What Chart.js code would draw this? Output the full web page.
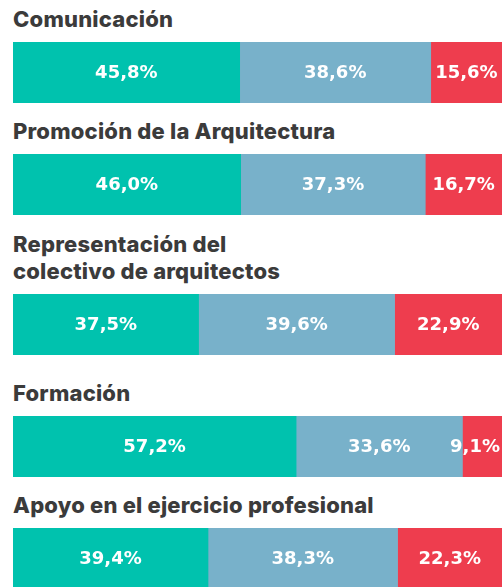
<!DOCTYPE html>
<html lang="es">
<head>
  <meta charset="UTF-8">
  <title>Valoración de servicios</title>
  <script src="https://cdn.jsdelivr.net/npm/chart.js"></script>
  <style>
    body { margin: 0; padding: 0; background: #fff; width: 502px; height: 587px; overflow: hidden; position: relative; }
    .bloque { position: absolute; left: 13px; width: 489px; }
    .bloque h3 { margin: 0 0 9px 0; font-family: Inter, sans-serif; font-weight: 800; font-size: 22px; line-height: 27px; letter-spacing: 0.2px; color: #3b3b3b; white-space: nowrap; }
    .barra { position: relative; width: 489px; height: 61px; }
  </style>
</head>
<body>
  <script>
    // Categorías y porcentajes de cada tramo (verde, azul, rojo)
    const categorias = [
      ['Comunicación'],
      ['Promoción de la Arquitectura'],
      ['Representación del', 'colectivo de arquitectos'],
      ['Formación'],
      ['Apoyo en el ejercicio profesional']
    ];
    const tramoVerde = [45.8, 46.0, 37.5, 57.2, 39.4];
    const tramoAzul  = [38.6, 37.3, 39.6, 33.6, 38.3];
    const tramoRojo  = [15.6, 16.7, 22.9, 9.1, 22.3];

    const colores = ['#00c2ae', '#78b1ca', '#ee3d4e'];
    // borde superior de cada barra en la página
    const topBarra = [42, 154, 294, 416, 528];

    function formato(v) {
      return v.toFixed(1).replace('.', ',') + '%';
    }

    // etiquetas blancas centradas en el tramo visible
    const etiquetas = {
      id: 'etiquetas',
      afterDatasetsDraw(chart) {
        const ctx = chart.ctx;
        const area = chart.chartArea;
        ctx.save();
        ctx.font = 'bold 18px "DejaVu Sans"';
        ctx.fillStyle = '#fff';
        ctx.textAlign = 'center';
        ctx.textBaseline = 'middle';
        chart.data.datasets.forEach((ds, i) => {
          chart.getDatasetMeta(i).data.forEach((bar, j) => {
            const izq = Math.max(Math.min(bar.base, bar.x), area.left);
            const der = Math.min(Math.max(bar.base, bar.x), area.right);
            const txt = formato(ds.data[j]);
            const w = ctx.measureText(txt).width;
            let cx = (izq + der) / 2;
            if (cx + w / 2 > area.right - 2) cx = area.right - 2 - w / 2;
            ctx.fillText(txt, cx, bar.y + 1);
          });
        });
        ctx.restore();
      }
    };

    categorias.forEach((cat, i) => {
      const bloque = document.createElement('div');
      bloque.className = 'bloque';
      bloque.style.top = (topBarra[i] - 9 - 27 * cat.length) + 'px';
      const h = document.createElement('h3');
      h.innerHTML = cat.join('<br>');
      const caja = document.createElement('div');
      caja.className = 'barra';
      const canvas = document.createElement('canvas');
      caja.appendChild(canvas);
      bloque.appendChild(h);
      bloque.appendChild(caja);
      document.body.appendChild(bloque);

      const valores = [tramoVerde[i], tramoAzul[i], tramoRojo[i]];
      new Chart(canvas, {
        type: 'bar',
        data: {
          labels: [cat.join(' ')],
          datasets: valores.map((v, k) => ({
            data: [v],
            backgroundColor: colores[k],
            borderWidth: 0,
            barPercentage: 1,
            categoryPercentage: 1
          }))
        },
        options: {
          indexAxis: 'y',
          responsive: true,
          maintainAspectRatio: false,
          animation: false,
          layout: { padding: 0 },
          plugins: { legend: { display: false }, tooltip: { enabled: false } },
          scales: {
            x: { stacked: true, display: false, min: 0, max: 98.8 },
            y: { stacked: true, display: false }
          }
        },
        plugins: [etiquetas]
      });
    });
  </script>
</body>
</html>
